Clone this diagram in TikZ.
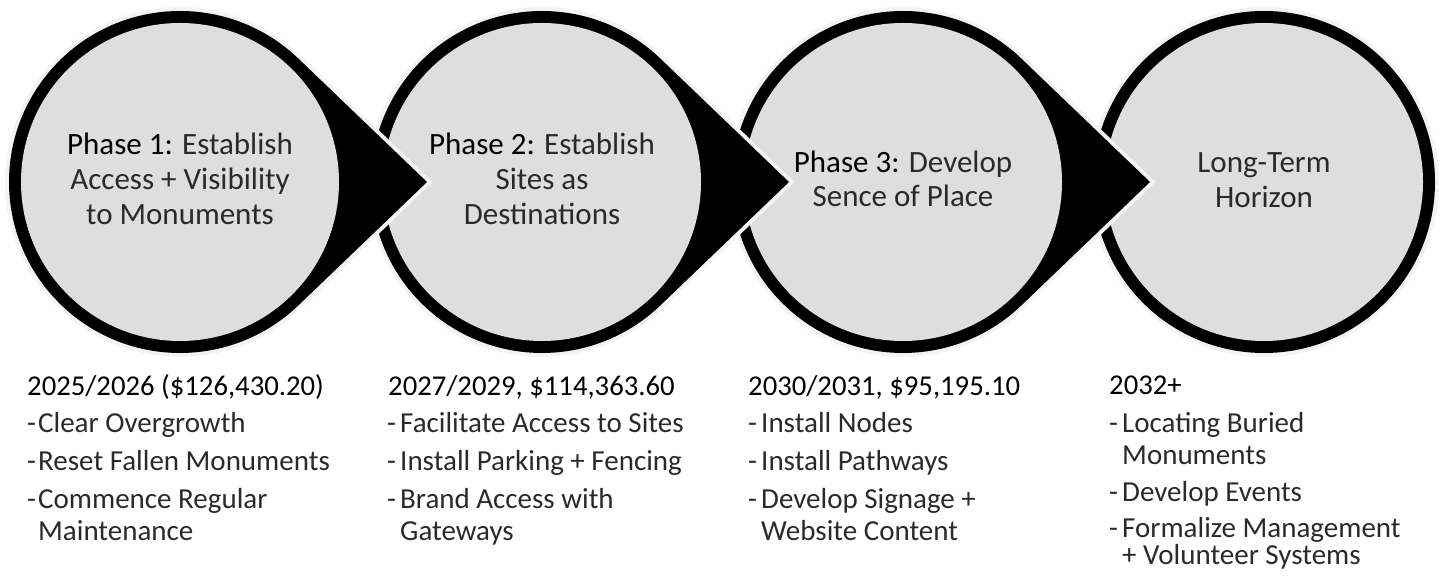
\documentclass[tikz,border=0pt]{standalone}
\usepackage{fontspec}
\setmainfont{Carlito}
\definecolor{innergray}{HTML}{DEDEDE}
\definecolor{halogray}{HTML}{F3F3F3}
\definecolor{lighttext}{HTML}{2A2A2A}
\tikzset{
  halo/.style={draw=halogray, line width=8pt},
  tearshape/.pic={
    \draw[halo] (247,0) -- (46.2:171) arc[start angle=46.2, end angle=313.8, radius=171] -- cycle;
    \fill[black] (247,0) -- (46.2:171) arc[start angle=46.2, end angle=313.8, radius=171] -- cycle;
  },
  roundshape/.pic={
    \draw[halo] (0,0) circle[radius=171];
    \fill[black] (0,0) circle[radius=171];
  },
  inner/.style={circle, fill=innergray, draw=none, minimum size=318pt, inner sep=0pt},
  ctext/.style={anchor=base, inner sep=0pt, text=lighttext, font=\fontsize{31}{35}\selectfont},
  head/.style={anchor=base west, inner sep=0pt, text=black, font=\fontsize{28.7}{34}\selectfont},
  item/.style={anchor=base west, inner sep=0pt, text=lighttext, font=\fontsize{29}{34}\selectfont},
}
\newcommand{\ph}[1]{\textcolor{black}{#1}}
\begin{document}
\begin{tikzpicture}[x=1pt,y=1pt]
\useasboundingbox (0,0) rectangle (1444,577);
\coordinate (c1) at (180,395);
\coordinate (c2) at (542,395);
\coordinate (c3) at (903,395);
\coordinate (c4) at (1264,395);
% shapes, right to left
\pic at (c4) {roundshape};
\node[inner] (p4) at (c4) {};
\pic at (c3) {tearshape};
\node[inner] (p3) at (c3) {};
\pic at (c2) {tearshape};
\node[inner] (p2) at (c2) {};
\pic at (c1) {tearshape};
\node[inner] (p1) at (c1) {};
% circle texts
\node[ctext] (t1a) at (180,422) {\ph{Phase 1:} Establish};
\node[ctext] (t1b) at (180,387) {Access + Visibility};
\node[ctext] (t1c) at (180,352) {to Monuments};
\node[ctext] (t2a) at (542,422) {\ph{Phase 2:} Establish};
\node[ctext] (t2b) at (542,387) {Sites as};
\node[ctext] (t2c) at (542,352) {Destinations};
\node[ctext] (t3a) at (903,404) {\ph{Phase 3:} Develop};
\node[ctext] (t3b) at (903,370) {Sence of Place};
\node[ctext] (t4a) at (1264,404) {Long-Term};
\node[ctext] (t4b) at (1264,369) {Horizon};
% column 1
\node[head] (h1) at (27,181) {2025/2026 (\$126,430.20)};
\node[item] (d1a) at (27,144) {-};
\node[item] (i1a) at (38,144) {Clear Overgrowth};
\node[item] (d1b) at (27,106) {-};
\node[item] (i1b) at (38,106) {Reset Fallen Monuments};
\node[item] (d1c) at (27,68) {-};
\node[item] (i1c) at (38,68) {Commence Regular};
\node[item] (i1d) at (38,36) {Maintenance};
% column 2
\node[head] (h2) at (388,181) {2027/2029, \$114,363.60};
\node[item] (d2a) at (387,144) {-};
\node[item] (i2a) at (400,144) {Facilitate Access to Sites};
\node[item] (d2b) at (387,106) {-};
\node[item] (i2b) at (400,106) {Install Parking + Fencing};
\node[item] (d2c) at (387,68) {-};
\node[item] (i2c) at (400,68) {Brand Access with};
\node[item] (i2d) at (400,36) {Gateways};
% column 3
\node[head] (h3) at (748,181) {2030/2031, \$95,195.10};
\node[item] (d3a) at (748,144) {-};
\node[item] (i3a) at (761,144) {Install Nodes};
\node[item] (d3b) at (748,106) {-};
\node[item] (i3b) at (761,106) {Install Pathways};
\node[item] (d3c) at (748,68) {-};
\node[item] (i3c) at (761,68) {Develop Signage +};
\node[item] (i3d) at (761,36) {Website Content};
% column 4
\node[head] (h4) at (1109,182) {2032+};
\node[item] (d4a) at (1109,144) {-};
\node[item] (i4a) at (1122,144) {Locating Buried};
\node[item] (i4b) at (1122,112) {Monuments};
\node[item] (d4c) at (1109,75) {-};
\node[item] (i4c) at (1122,75) {Develop Events};
\node[item] (d4d) at (1109,39) {-};
\node[item] (i4d) at (1122,39) {Formalize Management};
\node[item] (i4e) at (1122,12) {+ Volunteer Systems};
\end{tikzpicture}
\end{document}
